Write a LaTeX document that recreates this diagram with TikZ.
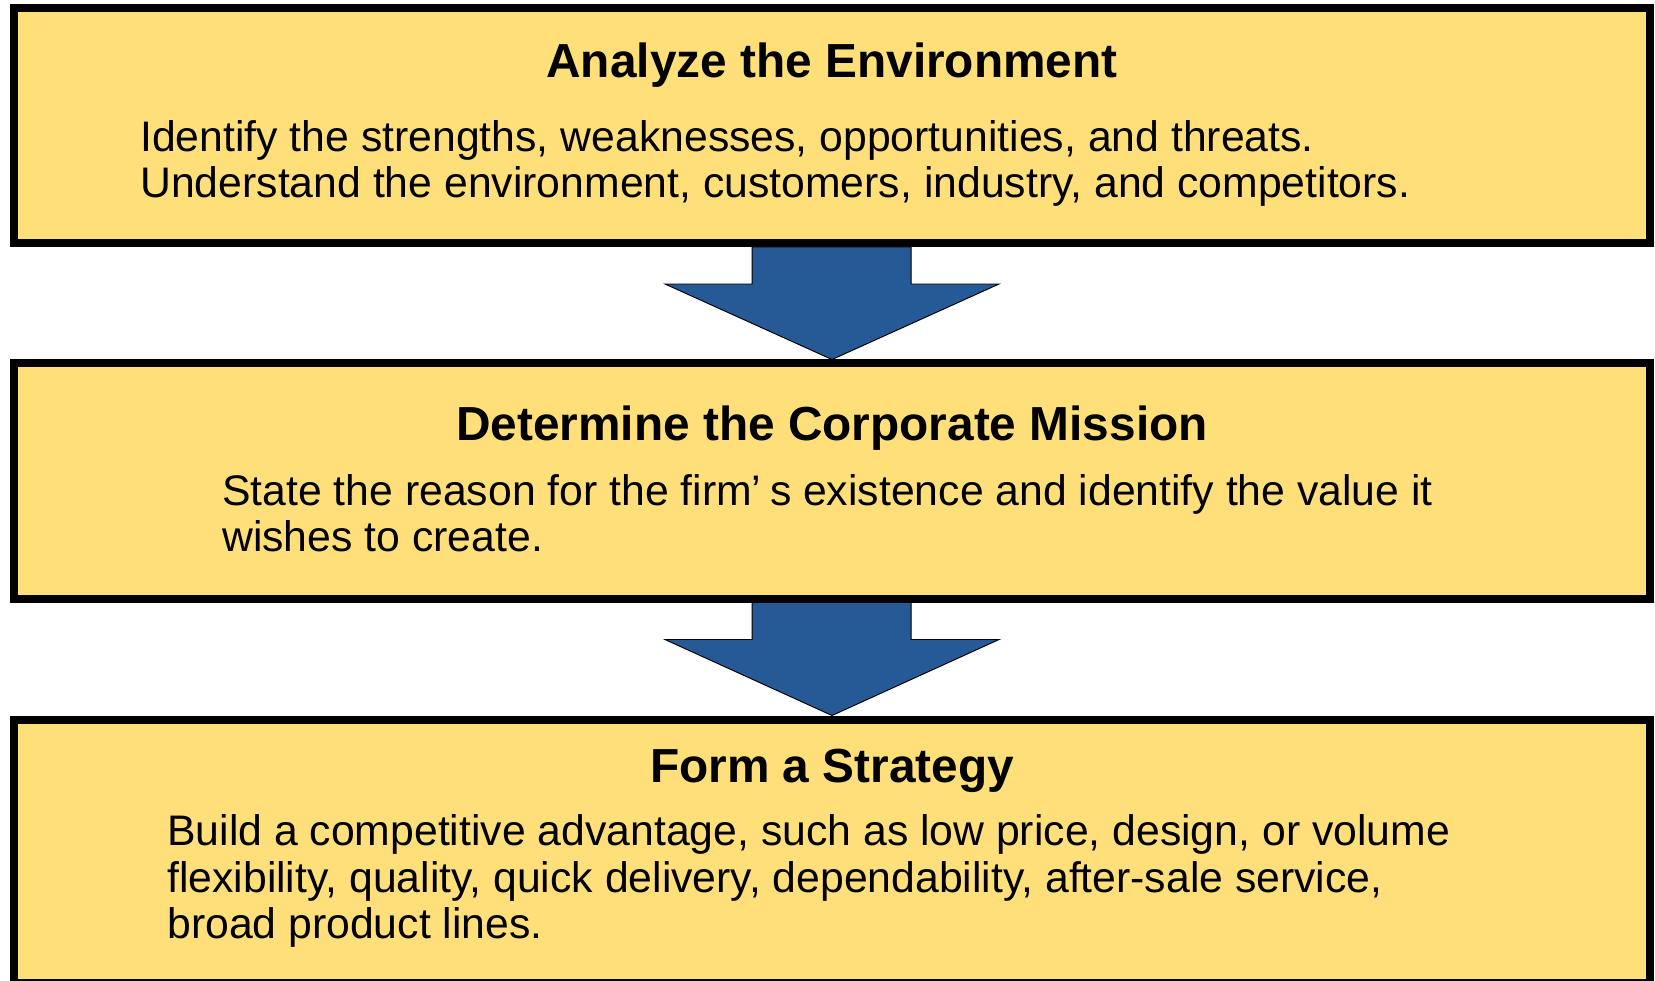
\documentclass[tikz,border=0pt]{standalone}
\usepackage{xcolor}
\usepackage{fontspec}
\setmainfont{Liberation Sans}
\usepackage{tikz}
\usetikzlibrary{positioning,calc}
\definecolor{stageyellow}{RGB}{255,223,122}
\definecolor{arrowblue}{RGB}{38,90,150}

\begin{document}
\begin{tikzpicture}[x=0.25mm,y=-0.25mm,
  stagebox/.style={draw=black, fill=stageyellow, line width=2mm, minimum width=409mm, minimum height=58.75mm, inner sep=0pt, outer sep=0pt},
  stagetitle/.style={anchor=base, font=\fontsize{34}{40}\selectfont\bfseries, inner sep=0pt},
  stagetext/.style={anchor=base west, align=left, font=\fontsize{30.4}{33}\selectfont, inner sep=0pt},
  flowarrow/.style={draw=black, fill=arrowblue, line width=0.7pt, line join=miter}]
\useasboundingbox (0,0) rectangle (1655,981);

\node[stagebox] (env) at (832,125.5) {};
\node[stagebox] (mission) at (832,481) {};
\node[stagebox, minimum height=65.875mm] (strategy) at (832,851.25) {};

\node[stagetitle] (envtitle) at ($(env.north)+(0,70)$) {Analyze the Environment};
\node[stagetext] (envtext) at ($(env.north west)+(126,190)$) {Identify the strengths, weaknesses, opportunities, and threats.\\Understand the environment, customers, industry, and competitors.};

\node[stagetitle] (missiontitle) at ($(mission.north)+(0,76.5)$) {Determine the Corporate Mission};
\node[stagetext] (missiontext) at ($(mission.north west)+(208,188)$) {State the reason for the firm’\kern0.2em s existence and identify the value it\\wishes to create.};

\node[stagetitle] (strategytitle) at ($(strategy.north)+(0,62.5)$) {Form a Strategy};
\node[stagetext] (strategytext) at ($(strategy.north west)+(153,219)$) {Build a competitive advantage, such as low price, design, or volume\\flexibility, quality, quick delivery, dependability, after-sale service,\\broad product lines.};

\foreach \from/\to in {env/mission, mission/strategy}
  \draw[flowarrow] ($(\from.south)+(-80,4)$) -- ($(\from.south)+(-80,41)$) -- ($(\from.south)+(-167,41)$)
    -- ($(\to.north)+(0,-4)$) -- ($(\from.south)+(167,41)$) -- ($(\from.south)+(79,41)$) -- ($(\from.south)+(79,4)$) -- cycle;
\end{tikzpicture}
\end{document}
